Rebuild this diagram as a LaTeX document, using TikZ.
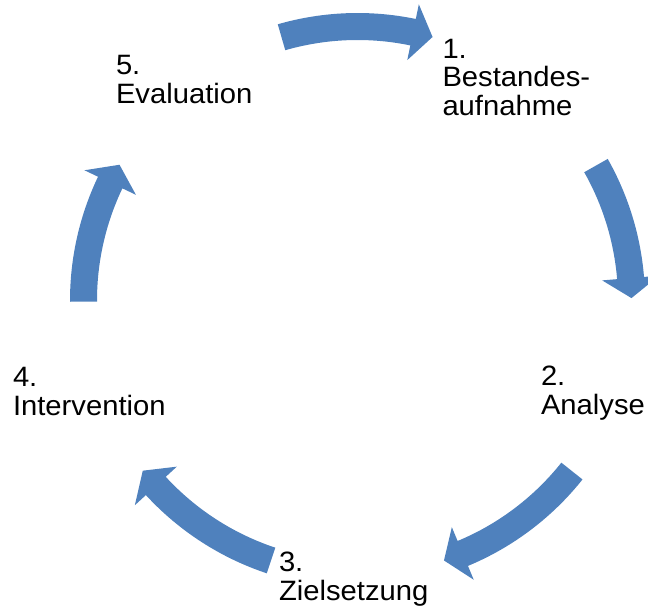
\documentclass[tikz,border=0pt]{standalone}
\usepackage{fontspec}
\setmainfont{Liberation Sans}[FakeStretch=1.043]
\definecolor{arrowblue}{HTML}{4F81BD}
\tikzset{
  cyc/.style={fill=arrowblue, draw=none},
  lbl/.style={anchor=base west, inner sep=0pt, outer sep=0pt, font=\fontsize{28}{28.4}\selectfont}
}
% #1 = tail angle, #2 = tip angle (clockwise arrow)
\newcommand\cycarrow[2]{%
  \pgfmathsetmacro\barbang{#2+4.2}%
  \fill[cyc] (#1:287.5pt) arc[start angle=#1, end angle=\barbang, radius=287.5pt]
    -- (\barbang:302.5pt) -- (#2:274pt) -- (\barbang:245.5pt) -- (\barbang:260.5pt)
    arc[start angle=\barbang, end angle=#1, radius=260.5pt] -- cycle;}
\begin{document}
\begin{tikzpicture}[x=1pt,y=1pt]
\useasboundingbox (0,0) rectangle (648,608);
\clip (0,0) rectangle (648,608);
\begin{scope}[shift={(357.5,307.5)}]
  \cycarrow{106.1}{74.1}
  \cycarrow{29.5}{0.5}
  \cycarrow{-38.5}{-71.6}
  \cycarrow{-108.4}{-141.6}
  \cycarrow{180.25}{150.3}
\end{scope}
\node[lbl] (n1) at (442.5,549.7) {\vtop{\hbox{1.}\hbox{Bestandes-}\hbox{aufnahme}}};
\node[lbl] (n2) at (541,222.3) {\vtop{\hbox{2.}\hbox{Analyse}}};
\node[lbl] (n3) at (279,36.3) {\vtop{\hbox{3.}\hbox{Zielsetzung}}};
\node[lbl] (n4) at (13,221.3) {\vtop{\hbox{4.}\hbox{Intervention}}};
\node[lbl] (n5) at (116,533) {\vtop{\hbox{5.}\hbox{Evaluation}}};
\end{tikzpicture}
\end{document}
